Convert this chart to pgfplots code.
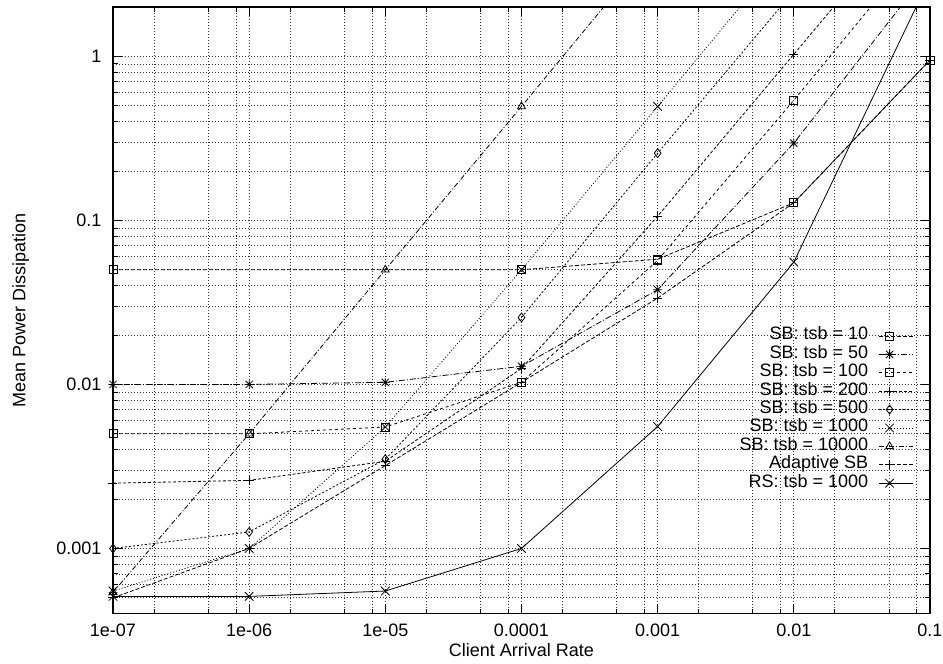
\documentclass[border=0pt]{standalone}
\usepackage{fontspec}
\setmainfont{Liberation Sans}
\usepackage{pgfplots}
\pgfplotsset{compat=1.18}

% gnuplot-style "*" : a plus and a cross on top of each other
\pgfdeclareplotmark{gpstar}{%
  \pgfpathmoveto{\pgfqpoint{-\pgfplotmarksize}{0pt}}%
  \pgfpathlineto{\pgfqpoint{\pgfplotmarksize}{0pt}}%
  \pgfpathmoveto{\pgfqpoint{0pt}{-\pgfplotmarksize}}%
  \pgfpathlineto{\pgfqpoint{0pt}{\pgfplotmarksize}}%
  \pgfpathmoveto{\pgfqpoint{-0.8\pgfplotmarksize}{-0.8\pgfplotmarksize}}%
  \pgfpathlineto{\pgfqpoint{0.8\pgfplotmarksize}{0.8\pgfplotmarksize}}%
  \pgfpathmoveto{\pgfqpoint{-0.8\pgfplotmarksize}{0.8\pgfplotmarksize}}%
  \pgfpathlineto{\pgfqpoint{0.8\pgfplotmarksize}{-0.8\pgfplotmarksize}}%
  \pgfusepathqstroke}

\newcommand{\gpfont}{\fontsize{18bp}{20bp}\selectfont}

\begin{document}
\begin{tikzpicture}
\path[use as bounding box] (-113bp,-50.3bp) rectangle (830bp,613.7bp);
\begin{axis}[
  at={(0,0)}, anchor=south west,
  scale only axis, width=817bp, height=606.7bp,
  xmode=log, ymode=log,
  xmin=1e-7, xmax=0.1, ymin=4e-4, ymax=2,
  xtick={1e-7,1e-6,1e-5,1e-4,1e-3,1e-2,1e-1},
  xticklabels={1e-07,1e-06,1e-05,0.0001,0.001,0.01,0.1},
  minor xtick={2e-7,5e-7,8e-7,2e-6,5e-6,8e-6,2e-5,5e-5,8e-5,2e-4,5e-4,8e-4,2e-3,5e-3,8e-3,2e-2,5e-2,8e-2},
  ytick={1e-3,1e-2,1e-1,1},
  yticklabels={0.001,0.01,0.1,1},
  minor ytick={4e-4,5e-4,6e-4,7e-4,8e-4,9e-4,2e-3,3e-3,4e-3,5e-3,6e-3,7e-3,8e-3,9e-3,2e-2,3e-2,4e-2,5e-2,6e-2,7e-2,8e-2,9e-2,0.2,0.3,0.4,0.5,0.6,0.7,0.8,0.9},
  grid=both,
  major grid style={black!80, line width=0.7bp, dash pattern=on 1bp off 2bp},
  minor grid style={black!80, line width=0.7bp, dash pattern=on 1bp off 2bp},
  tick align=inside,
  major tick length=9bp, minor tick length=5bp,
  tick style={black, line width=0.8bp},
  axis line style={line width=1.5bp},
  xticklabel shift=7bp, yticklabel shift=8bp,
  tick label style={font=\gpfont},
  xlabel={Client Arrival Rate},
  ylabel={Mean Power Dissipation},
  label style={font=\gpfont},
  xlabel style={at={(axis description cs:0.5,-0.0494)}, anchor=north, inner sep=0pt},
  ylabel style={at={(axis description cs:-0.1233,0.5)}, anchor=north, inner sep=0pt},
  clip mode=individual,
  every axis plot/.append style={black, line width=0.8bp, mark size=4bp, mark options={solid}},
  legend plot pos=right,
  legend cell align=right,
  legend style={draw=none, fill=none, font=\gpfont, inner sep=0pt, outer sep=0pt,
    at={(axis description cs:0.9792,0.4729)}, anchor=north east,
    row sep=0pt, column sep=10bp,
    nodes={inner sep=0pt, text height=13.2bp, text depth=5.2bp}},
  legend image code/.code={%
    \draw[#1, mark=none] (0bp,0bp) -- (34bp,0bp);
    \draw[#1, solid] plot coordinates {(11bp,0bp)};},
]
\addplot[mark=square, dash pattern=on 4bp off 2bp] coordinates {
  (1e-7,0.05) (1e-4,0.05) (1e-3,0.058) (1e-2,0.128) (1e-1,0.95)};
\addlegendentry{SB: tsb = 10}
\addplot[mark=gpstar, mark size=4.5bp, dash pattern=on 6bp off 2bp on 1bp off 2bp, mark indices={1,2,3,4,5,6}] coordinates {
  (1e-7,0.01) (1e-6,0.01) (1e-5,0.0103) (1e-4,0.0129) (1e-3,0.0378) (1e-2,0.296) (1e-1,3.4)};
\addlegendentry{SB: tsb = 50}
\addplot[mark=square, dash pattern=on 3bp off 3bp, mark indices={1,2,3,4,5,6}] coordinates {
  (1e-7,0.005) (1e-6,0.005) (1e-5,0.0055) (1e-4,0.0103) (1e-3,0.057) (1e-2,0.54) (1e-1,5.5)};
\addlegendentry{SB: tsb = 100}
\addplot[mark=+, mark size=4.5bp, dash pattern=on 3bp off 2bp, mark indices={1,2,3,4,5,6}] coordinates {
  (1e-7,0.0025) (1e-6,0.0026) (1e-5,0.0034) (1e-4,0.0125) (1e-3,0.106) (1e-2,1.03) (1e-1,10)};
\addlegendentry{SB: tsb = 200}
\addplot[mark=diamond, mark size=4.5bp, dash pattern=on 2bp off 2bp, mark indices={1,2,3,4,5}] coordinates {
  (1e-7,0.001) (1e-6,0.00126) (1e-5,0.0035) (1e-4,0.0256) (1e-3,0.257) (1e-2,2.5)};
\addlegendentry{SB: tsb = 500}
\addplot[mark=x, mark size=6bp, dash pattern=on 1bp off 2bp, mark indices={1,2,3,4,5}] coordinates {
  (1e-7,0.00055) (1e-6,0.001) (1e-5,0.0055) (1e-4,0.05) (1e-3,0.495) (1e-2,5)};
\addlegendentry{SB: tsb = 1000}
\addplot[mark=triangle, mark size=4.5bp, dash pattern=on 5bp off 2bp on 1bp off 2bp, mark indices={1,2,3,4}] coordinates {
  (1e-7,0.00054) (1e-6,0.005) (1e-5,0.05) (1e-4,0.495) (1e-3,5)};
\addlegendentry{SB: tsb = 10000}
\addplot[mark=+, mark size=4.5bp, dash pattern=on 4bp off 2bp] coordinates {
  (1e-7,0.0005) (1e-6,0.001) (1e-5,0.0032) (1e-4,0.0103) (1e-3,0.0336) (1e-2,0.128) (1e-1,0.95)};
\addlegendentry{Adaptive SB}
\addplot[mark=x, mark size=6bp, solid, mark indices={1,2,3,4,5,6}] coordinates {
  (1e-7,0.00051) (1e-6,0.00051) (1e-5,0.00055) (1e-4,0.001) (1e-3,0.00554) (1e-2,0.0557) (1e-1,3.0)};
\addlegendentry{RS: tsb = 1000}
\end{axis}
\end{tikzpicture}
\end{document}
